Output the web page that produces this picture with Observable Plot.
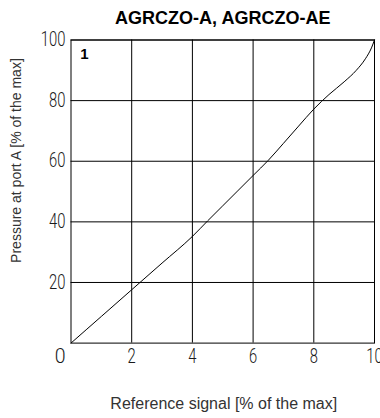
<!DOCTYPE html>
<html><head><meta charset="utf-8">
<script src="https://cdn.jsdelivr.net/npm/d3@7"></script>
<script src="https://cdn.jsdelivr.net/npm/@observablehq/plot@0.6"></script>
<style>
html,body{margin:0;padding:0;background:#fff;overflow:hidden;}
</style></head><body><div id="chart"></div>
<script>
const signal   = [0, 1, 2, 3, 4, 4.5, 5, 5.5, 6, 6.5, 7, 7.5, 8, 8.5, 9, 9.4, 9.7, 9.9, 10];
const pressure = [0, 8.8, 17.6, 26.4, 35.2, 40.3, 45.3, 50.3, 55.3, 60.3, 65.9, 71.6, 77.2, 82, 86.2, 90, 93.8, 97.4, 100];
const xTicks = [2, 4, 6, 8, 10];
const yTicks = [20, 40, 60, 80, 100];
const originLabel = "0";
const curveLabel = "1";
const title = "AGRCZO-A, AGRCZO-AE";
const xLabel = "Reference signal [% of the max]";
const yLabel = "Pressure at port A [% of the max]";

const data = signal.map((x, i) => ({x, y: pressure[i]}));
const tickFont = "Roboto, 'DejaVu Sans', sans-serif";
const labelFont = "'Liberation Sans', Arial, Helvetica, sans-serif";
const tickStyle = {fontSize: 19.5, fontFamily: tickFont, fontWeight: 300, fill: "#1a1a1a"};

const chart = Plot.plot({
  width: 380, height: 418,
  marginTop: 39.5, marginLeft: 70.5, marginRight: 6, marginBottom: 75.4,
  style: {fontFamily: labelFont, background: "#fff", overflow: "hidden"},
  x: {domain: [0, 10]},
  y: {domain: [0, 100]},
  marks: [
    Plot.gridX(xTicks, {stroke: "#000", strokeOpacity: 1, strokeWidth: 1}),
    Plot.gridY(yTicks, {stroke: "#000", strokeOpacity: 1, strokeWidth: 1}),
    Plot.frame({stroke: "#000", strokeWidth: 1}),
    Plot.axisX(xTicks, {tickSize: 0, tickPadding: 5.7, label: null, ...tickStyle}),
    Plot.axisY(yTicks, {tickSize: 0, tickPadding: 5.5, label: null, ...tickStyle}),
    Plot.line(data, {x: "x", y: "y", stroke: "#000", strokeWidth: 1, curve: "monotone-x"}),
    Plot.text([originLabel], {ariaLabel: "origin-label", text: d => d, frameAnchor: "bottom-left", textAnchor: "end", lineAnchor: "middle", dx: -5.5, dy: 14, ...tickStyle}),
    Plot.text([curveLabel], {text: d => d, frameAnchor: "top-left", textAnchor: "middle", lineAnchor: "middle", dx: 13.5, dy: 14.3, fontSize: 15, fontWeight: "bold", fill: "#000"}),
    Plot.text([title], {text: d => d, frameAnchor: "top", lineAnchor: "middle", dy: -22, fontSize: 18, fontWeight: "bold", fill: "#000"}),
    Plot.text([xLabel], {text: d => d, frameAnchor: "bottom", lineAnchor: "middle", dx: 1, dy: 61, fontSize: 16, fill: "#333"}),
    Plot.text([yLabel], {text: d => d, frameAnchor: "left", textAnchor: "middle", rotate: -90, lineAnchor: "middle", dx: -54.5, dy: -31, fontSize: 14, fill: "#333"})
  ]
});

// condense the tick-label glyphs horizontally (reference uses a narrow DIN-like face)
d3.select(chart)
  .selectAll('g[aria-label="x-axis tick label"] text, g[aria-label="y-axis tick label"] text, g[aria-label="origin-label"] text')
  .each(function() {
    let t = this.getAttribute("transform");
    if (!t) {
      const x = +this.getAttribute("x") || 0, y = +this.getAttribute("y") || 0;
      this.removeAttribute("x"); this.removeAttribute("y");
      t = `translate(${x},${y})`;
    }
    this.setAttribute("transform", t + " scale(0.76,1)");
  });

document.getElementById("chart").appendChild(chart);
</script></body></html>
